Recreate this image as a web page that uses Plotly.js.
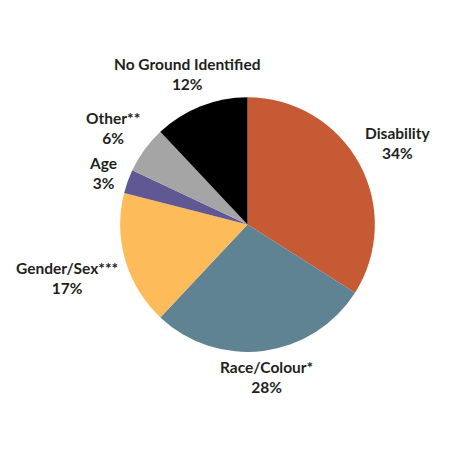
<!DOCTYPE html>
<html><head><meta charset="utf-8">
<script src="https://cdn.plot.ly/plotly-3.0.1.min.js"></script>
<style>body{margin:0;background:#fff}#chart{width:450px;height:450px}</style>
</head><body><div id="chart"></div>
<script>
const categories = ["Disability", "Race/Colour*", "Gender/Sex***", "Age", "Other**", "No Ground Identified"];
const values = [34, 28, 17, 3, 6, 12];
const colors = ["#C65A34", "#5F8392", "#FDBB59", "#5F5892", "#A5A5A5", "#000000"];
// label centre positions in pixels (layout only)
const labelPos = [[398, 143], [266, 377], [67, 278], [103, 173], [113, 128], [187, 74]];

const annotations = categories.map((c, i) => ({
  text: "<b>" + c + "<br>" + values[i] + "%</b>",
  x: labelPos[i][0] / 450, y: 1 - labelPos[i][1] / 450,
  xref: "paper", yref: "paper", xanchor: "center", yanchor: "middle",
  showarrow: false, align: "center",
  font: {family: "Lato", size: 15.5, color: "#231F20"}
}));

Plotly.newPlot("chart", [{
  type: "pie",
  labels: categories,
  values: values,
  sort: false,
  direction: "clockwise",
  rotation: 0,
  marker: {colors: colors, line: {width: 0}},
  textinfo: "none",
  hoverinfo: "none",
  automargin: false,
  domain: {x: [0.264, 0.836], y: [0.218, 0.784]}
}], {
  width: 450, height: 450,
  margin: {l: 0, r: 0, t: 0, b: 0},
  showlegend: false,
  paper_bgcolor: "#fff",
  annotations: annotations
}, {displayModeBar: false, staticPlot: true});
</script></body></html>
